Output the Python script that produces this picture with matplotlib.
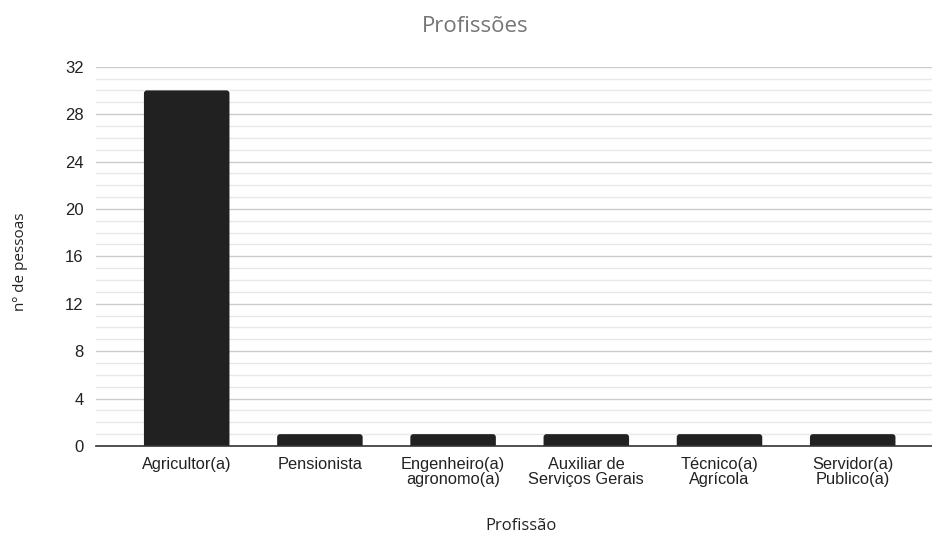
import matplotlib.pyplot as plt
from matplotlib.patches import FancyBboxPatch
import numpy as np

# dados
profissoes = ['Agricultor(a)', 'Pensionista', 'Engenheiro(a)\nagronomo(a)',
              'Auxiliar de\nServiços Gerais', 'Técnico(a)\nAgrícola', 'Servidor(a)\nPublico(a)']
pessoas = [30, 1, 1, 1, 1, 1]
yticks = [0, 4, 8, 12, 16, 20, 24, 28, 32]

W, H = 932, 535
fig = plt.figure(figsize=(W / 100, H / 100), dpi=100)
ax = fig.add_axes([96 / W, (H - 446) / H, (932 - 96) / W, (446 - 66.7) / H])

x = np.arange(len(profissoes))
px_x = 133.2  # pixels por unidade em x
px_y = 11.85  # pixels por unidade em y
ax.set_xlim((96 - 186.7) / px_x, (932 - 186.7) / px_x)
ax.set_ylim(0, 32)

# barras com cantos arredondados no topo
largura = 0.642
r = 3 / px_x
for xi, v in zip(x, pessoas):
    p = FancyBboxPatch((xi - largura / 2, -1), largura, v + 1,
                       boxstyle=f"round,pad=0,rounding_size={r}",
                       mutation_aspect=px_x / px_y,
                       facecolor='#212121', edgecolor='none', zorder=3)
    ax.add_patch(p)

# grade
ax.set_yticks(yticks)
ax.set_yticks(np.arange(0, 33, 1), minor=True)
ax.grid(axis='y', which='major', color='#cccccc', linewidth=1, zorder=0)
ax.grid(axis='y', which='minor', color='#e8e8e8', linewidth=1, zorder=0)
ax.tick_params(axis='y', which='both', length=0, pad=9, labelsize=12, labelcolor='#222222')
ax.tick_params(axis='x', length=0, pad=8)
for s in ['top', 'right', 'left']:
    ax.spines[s].set_visible(False)
ax.spines['bottom'].set_color('#333333')
ax.spines['bottom'].set_linewidth(1.2)
ax.spines['bottom'].set_zorder(4)

ax.set_xticks(x)
ax.set_xticklabels(profissoes, family='Liberation Sans', fontsize=11.8,
                   color='#222222', linespacing=1.0)
for lbl in ax.get_yticklabels():
    lbl.set_family('Liberation Sans')

fig.text(475 / W, 1 - 26 / H, 'Profissões', ha='center', va='center',
         family='Open Sans', fontsize=16, color='#757575')
fig.text(521 / W, 1 - 526 / H, 'Profissão', ha='center', va='center',
         family='Open Sans', fontsize=12, color='#222222')
fig.text(21 / W, 1 - 262 / H, 'nº de pessoas', ha='center', va='center',
         rotation=90, family='Open Sans', fontsize=11, color='#222222')

fig.savefig('out.png', dpi=100, facecolor='white')
